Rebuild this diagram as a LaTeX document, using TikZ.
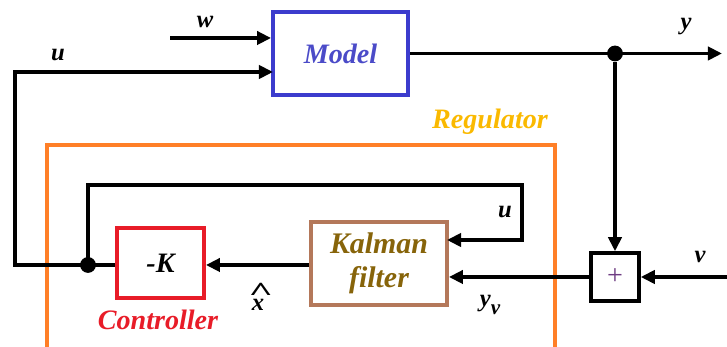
\documentclass[tikz,border=0pt]{standalone}
\usepackage{fontspec}
\setmainfont{Liberation Serif}
\usepackage{xcolor}
\usetikzlibrary{positioning, arrows.meta}

\definecolor{azulmodelo}{RGB}{60,60,205}
\definecolor{azultexto}{RGB}{75,75,200}
\definecolor{rojocontrol}{RGB}{232,28,40}
\definecolor{cafekalman}{RGB}{180,120,90}
\definecolor{olivakalman}{RGB}{135,100,10}
\definecolor{naranjareg}{RGB}{255,127,39}
\definecolor{amarilloreg}{RGB}{250,185,0}
\definecolor{moradosuma}{RGB}{110,60,130}

\begin{document}
\begin{tikzpicture}[
    bloque/.style={draw, line width=2.2pt, minimum width=2.7cm, minimum height=1.66cm,
        font=\fontsize{16}{19}\selectfont\bfseries\itshape},
    senal/.style={font=\fontsize{14}{16}\selectfont\bfseries\itshape},
    flecha/.style={line width=2pt, -{Triangle[length=8pt,width=7.5pt]}},
    punto/.style={circle, fill, inner sep=0pt, minimum size=9pt}
]
    \useasboundingbox (0,0) rectangle (14.54,6.94);

    % Caja del regulador (abierta por abajo)
    \draw[naranjareg, line width=2.2pt] (0.94,-0.2) -- (0.94,4.04) -- (11.1,4.04) -- (11.1,-0.2);
    \node[font=\fontsize{16}{19}\selectfont\bfseries\itshape, text=amarilloreg] (reg) at (9.8,4.5) {Regulator};

    % Bloques
    \node[bloque, draw=azulmodelo, text=azultexto] (modelo) at (6.81,5.87) {Model};
    \node[bloque, draw=cafekalman, text=olivakalman, align=center, minimum width=2.72cm,
        font=\fontsize{17}{19}\selectfont\bfseries\itshape] (kalman) at (7.58,1.67) {Kalman\\filter};
    \node[bloque, draw=rojocontrol, minimum width=1.74cm, minimum height=1.4cm] (control) at (3.21,1.68) {-K};
    \node[draw, line width=2pt, minimum size=0.96cm, inner sep=0pt, text=moradosuma,
        font=\fontsize{16}{16}\selectfont] (suma) at (12.3,1.40) {+};
    \node[text=rojocontrol, font=\fontsize{16}{19}\selectfont\bfseries\itshape] (ctrl) at (3.16,0.54) {Controller};

    % Puntos de union
    \node[punto] (salida) at (12.3,5.87) {};
    \node[punto] (union) at (1.76,1.64) {};

    % Extremos libres
    \coordinate (w0) at (3.4,6.18);
    \coordinate (yfin) at (14.44,5.87);
    \coordinate (v0) at (14.54,1.40);
    \coordinate (izq) at (0.3,1.64);
    \coordinate (uin) at (5.46,5.5);
    \coordinate (lazo) at (10.44,3.24);
    \coordinate (ukal) at (8.94,2.14);

    % Senales
    \draw[flecha] (w0) -- (w0 -| modelo.west);
    \draw[flecha] (control.west |- union) -- (izq) |- (uin);
    \draw[flecha] (modelo.east) -- (yfin);
    \draw[flecha] (salida) -- (suma.north);
    \draw[flecha] (v0) -- (suma.east);
    \draw[flecha] (suma.west) -- (kalman.east |- suma.west);
    \draw[flecha] (kalman.west |- union) -- (control.east |- union);
    \draw[flecha] (union.center) |- (lazo) |- (ukal);

    % Etiquetas
    \node[senal] (lw) at (4.1,6.5) {w};
    \node[senal] (lu) at (1.16,5.84) {u};
    \node[senal] (ly) at (13.72,6.4) {y};
    \node[senal] (lu2) at (10.1,2.7) {u};
    \node[senal] (lv) at (14.0,1.8) {v};
    \node[senal] (lyv) at (9.8,0.84) {y\raisebox{-5pt}{\fontsize{12}{12}\selectfont v}};
    \node[senal] (lx) at (5.16,1.0)
        {\rlap{\hspace{-2pt}\raisebox{6pt}{\scalebox{1.6}[1]{\fontsize{15}{15}\selectfont\^{}}}}x};
\end{tikzpicture}
\end{document}
